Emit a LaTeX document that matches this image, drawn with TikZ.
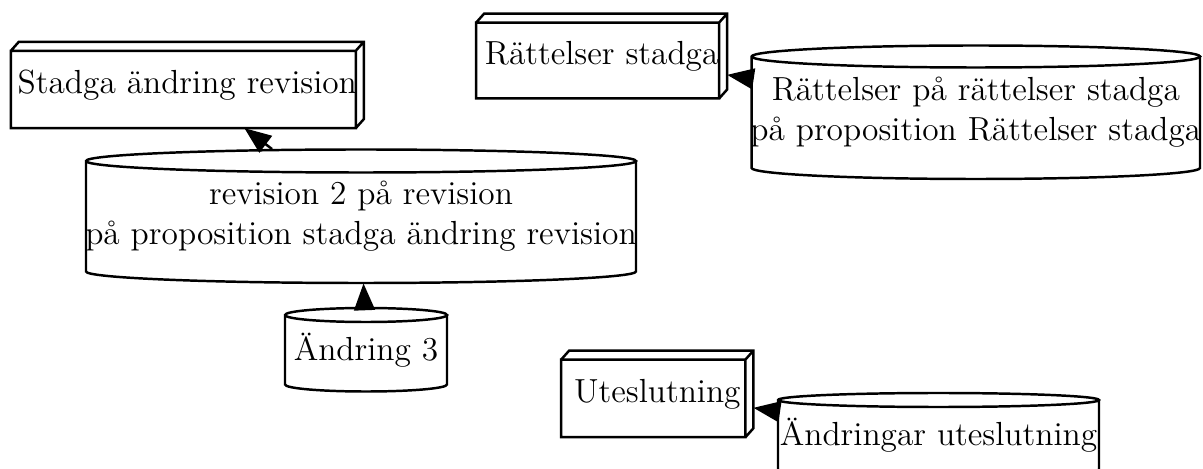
\documentclass[tikz,border=0pt]{standalone}
\usetikzlibrary{calc,arrows.meta}
\newcommand{\pxu}{0.425pt}
\tikzset{
  shapenode/.style={draw=none, inner sep=0pt, align=center, font=\fontsize{14.2}{17}\selectfont},
  edge/.style={-{Triangle[length=11.4pt,width=8.8pt]}, line width=1.05pt},
  outline/.style={line width=1.05pt, line join=miter},
}
\newcommand{\boxthree}[1]{%
  \draw[outline]
    (#1.south west) rectangle ($(#1.north east)+(-8,9)$)
    ($(#1.north west)+(0,9)$) -- ($(#1.north west)+(8,0)$) -- (#1.north east)
      -- ($(#1.south east)+(0,-9)$) -- ($(#1.south east)+(-8,0)$)
    ($(#1.north east)+(-8,9)$) -- (#1.north east);
}
% #1 node, #2 half width (px), #3 ellipse y radius (px), #4 half height (px)
\newcommand{\cyl}[4]{%
  \draw[outline]
    ($(#1.center)+(-#2,-#4+#3)$)
      arc[start angle=180,end angle=360,x radius={#2*\pxu},y radius={#3*\pxu}]
      arc[start angle=0,end angle=180,x radius={#2*\pxu},y radius={#3*\pxu}]
      -- ($(#1.center)+(-#2,#4-#3)$)
      arc[start angle=180,end angle=360,x radius={#2*\pxu},y radius={#3*\pxu}]
      -- ($(#1.center)+(#2,-#4+#3)$);
}
\begin{document}
\begin{tikzpicture}[x=0.425pt,y=-0.425pt]
\useasboundingbox (0,0) rectangle (1203,469);
\clip (0,0) rectangle (1203,469);
% box3d nodes
\node[shapenode, minimum width={352*\pxu}, minimum height={85.4*\pxu}] (b1) at (187.3,85) {Stadga ändring revision};
\node[shapenode, minimum width={250*\pxu}, minimum height={84*\pxu}] (b2) at (601.7,56) {Rättelser stadga};
\node[shapenode, minimum width={191.3*\pxu}, minimum height={85.7*\pxu}] (b3) at (657.35,393.85) {Uteslutning};
% cylinders
\node[shapenode, minimum width={550*\pxu}, minimum height={133.5*\pxu}] (c3) at (361,216.25) {revision 2 på revision\\på proposition stadga ändring revision};
\node[shapenode, minimum width={448.3*\pxu}, minimum height={133.5*\pxu}] (c2) at (975.85,112.25) {Rättelser på rättelser stadga\\på proposition Rättelser stadga};
\node[shapenode, minimum width={162*\pxu}, minimum height={83.5*\pxu}] (c1) at (366,349.75) {Ändring 3};
\node[shapenode, minimum width={321*\pxu}, minimum height={83.5*\pxu}] (c4) at (938.5,434.75) {Ändringar uteslutning};
\boxthree{b1}
\boxthree{b2}
\boxthree{b3}
\cyl{c3}{275}{11.5}{66.75}
\cyl{c2}{224.15}{11}{66.75}
\cyl{c1}{81}{7}{41.75}
\cyl{c4}{160.5}{7}{41.75}
% connectors
\draw[edge] (c3) -- (b1);
\draw[edge] (c1) -- (c3);
\draw[edge] (c2) -- (b2);
\draw[edge] (c4) -- (b3);
\end{tikzpicture}
\end{document}
